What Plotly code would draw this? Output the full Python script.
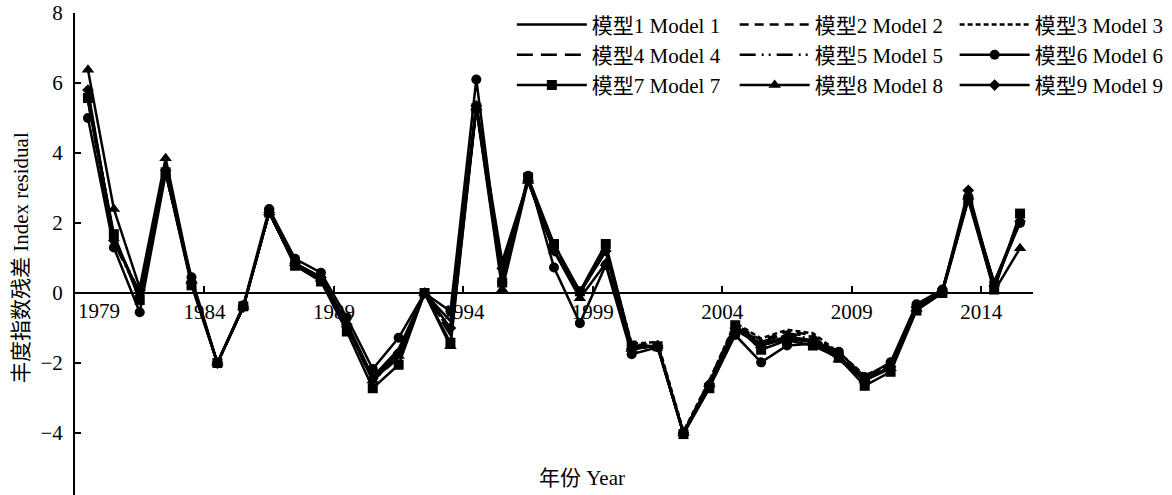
import plotly.graph_objects as go

# Survey years
years = list(range(1979, 2016))

# Abundance-index residuals for each model
model1 = [5.5, 1.5, 0.0, 3.5, 0.3, -2.0, -0.4, 2.3, 0.85, 0.45, -0.85, -2.4, -1.6, 0.0, -0.8, 5.4, 0.9, 3.2, 1.2, 0.05, 1.2, -1.6, -1.5, -4.0, -2.6, -1.0, -1.5, -1.3, -1.4, -1.8, -2.5, -2.1, -0.4, 0.05, 2.7, 0.3, 2.1]
model2 = [5.6, 1.6, -0.1, 3.5, 0.3, -2.0, -0.4, 2.3, 0.8, 0.4, -0.95, -2.5, -1.8, 0.0, -1.1, 5.3, 0.6, 3.2, 1.25, 0.0, 1.25, -1.5, -1.45, -4.0, -2.5, -0.9, -1.35, -1.1, -1.2, -1.75, -2.4, -2.1, -0.4, 0.05, 2.7, 0.25, 2.1]
model3 = [5.6, 1.6, -0.1, 3.5, 0.3, -2.0, -0.4, 2.3, 0.8, 0.4, -0.95, -2.5, -1.8, 0.0, -1.1, 5.3, 0.6, 3.2, 1.25, 0.0, 1.25, -1.45, -1.4, -3.95, -2.5, -0.85, -1.3, -1.05, -1.15, -1.7, -2.35, -2.05, -0.4, 0.05, 2.7, 0.25, 2.1]
model4 = [5.7, 1.55, 0.0, 3.5, 0.3, -2.0, -0.4, 2.3, 0.8, 0.4, -0.95, -2.5, -1.85, 0.0, -1.2, 5.3, 0.5, 3.2, 1.3, 0.05, 1.3, -1.55, -1.5, -4.0, -2.55, -0.95, -1.4, -1.15, -1.25, -1.8, -2.45, -2.15, -0.45, 0.05, 2.7, 0.2, 2.15]
model5 = [5.5, 1.45, -0.05, 3.45, 0.3, -2.0, -0.4, 2.3, 0.8, 0.4, -0.9, -2.45, -1.75, 0.0, -1.0, 5.35, 0.7, 3.2, 1.2, 0.0, 1.2, -1.6, -1.5, -4.0, -2.6, -1.0, -1.45, -1.2, -1.3, -1.8, -2.5, -2.1, -0.4, 0.05, 2.7, 0.25, 2.05]
model6 = [5.0, 1.3, -0.55, 3.4, 0.45, -2.0, -0.35, 2.4, 0.98, 0.58, -0.7, -2.17, -1.28, 0.0, -0.52, 6.1, 0.3, 3.35, 0.73, -0.86, 0.8, -1.75, -1.55, -4.0, -2.7, -1.2, -1.98, -1.5, -1.45, -1.68, -2.4, -1.98, -0.32, 0.1, 2.75, 0.3, 2.0]
model7 = [5.57, 1.68, -0.2, 3.45, 0.22, -2.0, -0.38, 2.3, 0.78, 0.33, -1.1, -2.72, -2.05, 0.0, -1.42, 5.28, 0.3, 3.3, 1.4, 0.05, 1.4, -1.5, -1.52, -4.03, -2.72, -0.92, -1.62, -1.35, -1.5, -1.85, -2.65, -2.25, -0.5, 0.0, 2.65, 0.1, 2.27]
model8 = [6.38, 2.4, 0.15, 3.85, 0.35, -2.0, -0.4, 2.3, 0.85, 0.4, -0.9, -2.5, -1.8, 0.0, -1.52, 5.3, 0.1, 3.2, 1.2, -0.15, 0.85, -1.6, -1.5, -4.0, -2.6, -1.05, -1.5, -1.3, -1.4, -1.9, -2.5, -2.15, -0.45, 0.05, 2.75, 0.05, 1.28]
model9 = [5.8, 1.5, 0.0, 3.5, 0.3, -2.0, -0.4, 2.3, 0.85, 0.45, -0.9, -2.45, -1.7, 0.0, -1.0, 5.35, 0.7, 3.2, 1.2, 0.0, 1.2, -1.6, -1.5, -4.0, -2.6, -1.0, -1.45, -1.25, -1.35, -1.8, -2.5, -2.1, -0.4, 0.05, 2.93, 0.2, 2.05]

names = ["模型1 Model 1", "模型2 Model 2", "模型3 Model 3",
         "模型4 Model 4", "模型5 Model 5", "模型6 Model 6",
         "模型7 Model 7", "模型8 Model 8", "模型9 Model 9"]

# Labelled years on the x axis and y tick values
x_tick_years = [1984, 1989, 1994, 1999, 2004, 2009, 2014]
y_ticks = [-4, -2, 0, 2, 4, 6, 8]
y_tick_text = ["−4", "−2", "0", "2", "4", "6", "8"]

FONT = "Liberation Serif, Noto Sans CJK SC, serif"
FS = 21
Y_MIN, Y_MAX = -5.77, 8.0

series = [model1, model2, model3, model4, model5, model6, model7, model8, model9]
styles = [
    dict(dash="solid", symbol=None),
    dict(dash="9px,6px", symbol=None),
    dict(dash="5px,3px", symbol=None),
    dict(dash="16px,8px", symbol=None),
    dict(dash="16px,6px,2px,5px,2px,6px", symbol=None),
    dict(dash="solid", symbol="circle", size=10),
    dict(dash="solid", symbol="square", size=10),
    dict(dash="solid", symbol="triangle-up", size=11),
    dict(dash="solid", symbol="diamond", size=9),
]
# Three legend columns: models 1/4/7, 2/5/8, 3/6/9
legend_of = ["legend", "legend2", "legend3"] * 3

fig = go.Figure()
for vals, name, st, lg in zip(series, names, styles, legend_of):
    kw = dict(
        x=years, y=vals, name=name, legend=lg,
        line=dict(color="black", width=2.5, dash=st["dash"]),
    )
    if st["symbol"]:
        kw["mode"] = "lines+markers"
        kw["marker"] = dict(symbol=st["symbol"], size=st["size"], color="black")
    else:
        kw["mode"] = "lines"
    fig.add_trace(go.Scatter(**kw))

zero_pos = (0 - Y_MIN) / (Y_MAX - Y_MIN)

legend_common = dict(
    xanchor="left", yanchor="top", y=1.018, orientation="v",
    bgcolor="rgba(0,0,0,0)", font=dict(family=FONT, size=FS, color="black"),
    itemwidth=70, tracegroupgap=0,
)

fig.update_layout(
    width=1172, height=495,
    margin=dict(l=75, r=139, t=13, b=0),
    paper_bgcolor="white", plot_bgcolor="white",
    font=dict(family=FONT, size=FS, color="black"),
    xaxis=dict(
        range=[1978.5, 2015.5],
        tickvals=[y - 0.5 for y in x_tick_years],
        ticktext=[str(y) for y in x_tick_years],
        ticks="inside", ticklen=6, tickwidth=1.5, tickcolor="black",
        showline=True, linecolor="black", linewidth=1.5,
        anchor="free", position=zero_pos,
        showgrid=False, zeroline=False,
        tickfont=dict(family=FONT, size=FS, color="black"),
    ),
    yaxis=dict(
        range=[Y_MIN, Y_MAX],
        tickvals=y_ticks, ticktext=y_tick_text,
        ticks="inside", ticklen=6, tickwidth=1.5, tickcolor="black",
        showline=True, linecolor="black", linewidth=2,
        showgrid=False, zeroline=False,
        ticklabelstandoff=6,
        tickfont=dict(family=FONT, size=FS, color="black"),
    ),
    legend=dict(x=0.456, **legend_common),
    legend2=dict(x=0.6886, **legend_common),
    legend3=dict(x=0.9182, **legend_common),
    showlegend=True,
)

fig.add_annotation(
    text="1979", x=1979.41, y=0, xref="x", yref="y",
    xanchor="center", yanchor="top", yshift=-4, showarrow=False,
    font=dict(family=FONT, size=FS, color="black"),
)
fig.add_annotation(
    text="年份 Year", x=0.529, y=0.035, xref="paper", yref="paper",
    xanchor="center", yanchor="middle", showarrow=False,
    font=dict(family=FONT, size=FS, color="black"),
)
fig.add_annotation(
    text="丰度指数残差 Index residual", x=-0.0563, y=0.4917,
    xref="paper", yref="paper", textangle=-90,
    xanchor="center", yanchor="middle", showarrow=False,
    font=dict(family=FONT, size=FS, color="black"),
)

fig.write_html("out.html")
